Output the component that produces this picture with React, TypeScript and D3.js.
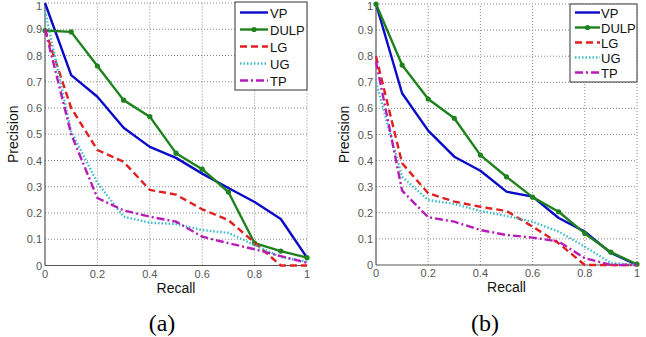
import React from "react";
import * as d3 from "d3";

const recall = [0, 0.1, 0.2, 0.3, 0.4, 0.5, 0.6, 0.7, 0.8, 0.9, 1];
const seriesNames = ["VP", "DULP", "LG", "UG", "TP"];

const aVP = [1.0, 0.725, 0.643, 0.525, 0.452, 0.41, 0.35, 0.295, 0.242, 0.177, 0.03];
const aDULP = [0.895, 0.89, 0.76, 0.63, 0.567, 0.428, 0.367, 0.28, 0.085, 0.055, 0.03];
const aLG = [0.9, 0.6, 0.44, 0.395, 0.288, 0.27, 0.214, 0.173, 0.087, 0.0, 0.0];
const aUG = [0.97, 0.51, 0.315, 0.186, 0.163, 0.158, 0.135, 0.124, 0.078, 0.032, 0.015];
const aTP = [0.9, 0.5, 0.257, 0.21, 0.186, 0.167, 0.11, 0.085, 0.062, 0.036, 0.01];

const bVP = [1.0, 0.658, 0.515, 0.415, 0.361, 0.281, 0.262, 0.18, 0.128, 0.046, 0.0];
const bDULP = [1.0, 0.766, 0.636, 0.562, 0.421, 0.338, 0.26, 0.204, 0.121, 0.049, 0.003];
const bLG = [0.8, 0.39, 0.275, 0.243, 0.223, 0.207, 0.147, 0.083, 0.0, 0.0, 0.0];
const bUG = [0.7, 0.338, 0.249, 0.234, 0.207, 0.188, 0.166, 0.128, 0.07, 0.008, 0.0];
const bTP = [0.78, 0.285, 0.183, 0.166, 0.134, 0.115, 0.105, 0.09, 0.026, 0.0, 0.0];

const xTicks = [0, 0.2, 0.4, 0.6, 0.8, 1];
const yTicks = [0, 0.1, 0.2, 0.3, 0.4, 0.5, 0.6, 0.7, 0.8, 0.9, 1];
const panelLabels = ["(a)", "(b)"];

const styles = [
  { color: "#0a0ac8", dash: "", marker: false },
  { color: "#1e821e", dash: "", marker: true },
  { color: "#e02020", dash: "7,4", marker: false },
  { color: "#3cbcc8", dash: "1.5,2", marker: false },
  { color: "#b81cb8", dash: "8,3,2,3", marker: false },
];

type PanelProps = {
  data: number[][];
  x0: number; x1: number; y0: number; y1: number;
  legend: { x: number; y: number; w: number; h: number; first: number; step: number; lx0: number; lx1: number; tx: number };
  label: string;
  labelX: number;
};

function Panel({ data, x0, x1, y0, y1, legend, label, labelX }: PanelProps) {
  const xs = d3.scaleLinear().domain([0, 1]).range([x0, x1]);
  const ys = d3.scaleLinear().domain([0, 1]).range([y0, y1]);
  const line = d3.line<number>().x((_, i) => xs(recall[i])).y((d) => ys(d));
  const fmt = (v: number) => (v === 0 ? "0" : v === 1 ? "1" : String(v));
  return (
    <g>
      {xTicks.slice(1).map((t) => (
        <line key={"gx" + t} x1={xs(t)} x2={xs(t)} y1={ys(0)} y2={ys(1)} stroke="#888" strokeDasharray="1,2" strokeWidth={1} />
      ))}
      {yTicks.slice(1).map((t) => (
        <line key={"gy" + t} x1={xs(0)} x2={xs(1)} y1={ys(t)} y2={ys(t)} stroke="#888" strokeDasharray="1,2" strokeWidth={1} />
      ))}
      <line x1={xs(0)} x2={xs(0)} y1={ys(0)} y2={ys(1)} stroke="#555" strokeWidth={1.2} />
      <line x1={xs(0)} x2={xs(1)} y1={ys(0)} y2={ys(0)} stroke="#555" strokeWidth={1.2} />
      {yTicks.map((t) => (
        <text key={"ty" + t} x={xs(0) - 3} y={Math.max(ys(t) + 4, 10)} fontSize={11} fill="#555" textAnchor="end" fontFamily="Liberation Sans, Arial">
          {fmt(t)}
        </text>
      ))}
      {xTicks.map((t) => (
        <text key={"tx" + t} x={xs(t)} y={ys(0) + 12} fontSize={11} fill="#555" textAnchor="middle" fontFamily="Liberation Sans, Arial">
          {fmt(t)}
        </text>
      ))}
      <text transform={`translate(${x0 - 27},${(y0 + y1) / 2}) rotate(-90)`} fontSize={14} textAnchor="middle" fontFamily="Liberation Sans, Arial" fill="#111">
        Precision
      </text>
      <text x={(x0 + x1) / 2} y={y0 + 27} fontSize={14} textAnchor="middle" fontFamily="Liberation Sans, Arial" fill="#111">
        Recall
      </text>
      {data.map((d, i) => (
        <g key={"s" + i}>
          <path d={line(d) || ""} fill="none" stroke={styles[i].color} strokeWidth={2.4} strokeDasharray={styles[i].dash} strokeLinejoin="round" />
          {styles[i].marker &&
            d.map((v, j) => <circle key={j} cx={xs(recall[j])} cy={ys(v)} r={2.6} fill={styles[i].color} />)}
        </g>
      ))}
      <rect x={legend.x} y={legend.y} width={legend.w} height={legend.h} fill="#fff" stroke="#333" strokeWidth={1} />
      {seriesNames.map((n, i) => {
        const yy = legend.y + legend.first + i * legend.step;
        return (
          <g key={"l" + n}>
            <line x1={legend.lx0} x2={legend.lx1} y1={yy} y2={yy} stroke={styles[i].color} strokeWidth={2.4} strokeDasharray={styles[i].dash} />
            {styles[i].marker && <circle cx={(legend.lx0 + legend.lx1) / 2} cy={yy} r={2.6} fill={styles[i].color} />}
            <text x={legend.tx} y={yy + 5} fontSize={13} fontFamily="Liberation Sans, Arial" fill="#111">
              {n}
            </text>
          </g>
        );
      })}
      <text x={labelX} y={331} fontSize={24} textAnchor="middle" fontFamily="Liberation Serif, Times New Roman, serif" fill="#000">
        {label}
      </text>
    </g>
  );
}

export default function App() {
  return (
    <svg width={646} height={337} style={{ position: "absolute", left: 0, top: 0, background: "#fff" }}>
      <rect width={646} height={337} fill="#fff" />
      <Panel
        data={[aVP, aDULP, aLG, aUG, aTP]}
        x0={45} x1={307} y0={265.5} y1={3}
        legend={{ x: 235, y: 2, w: 72, h: 88, first: 10.5, step: 17, lx0: 240, lx1: 268, tx: 270 }}
        label={panelLabels[0]}
        labelX={162}
      />
      <Panel
        data={[bVP, bDULP, bLG, bUG, bTP]}
        x0={376} x1={637} y0={265} y1={4}
        legend={{ x: 570, y: 4, w: 67, h: 78, first: 8.5, step: 15, lx0: 575, lx1: 600, tx: 601 }}
        label={panelLabels[1]}
        labelX={485}
      />
    </svg>
  );
}
